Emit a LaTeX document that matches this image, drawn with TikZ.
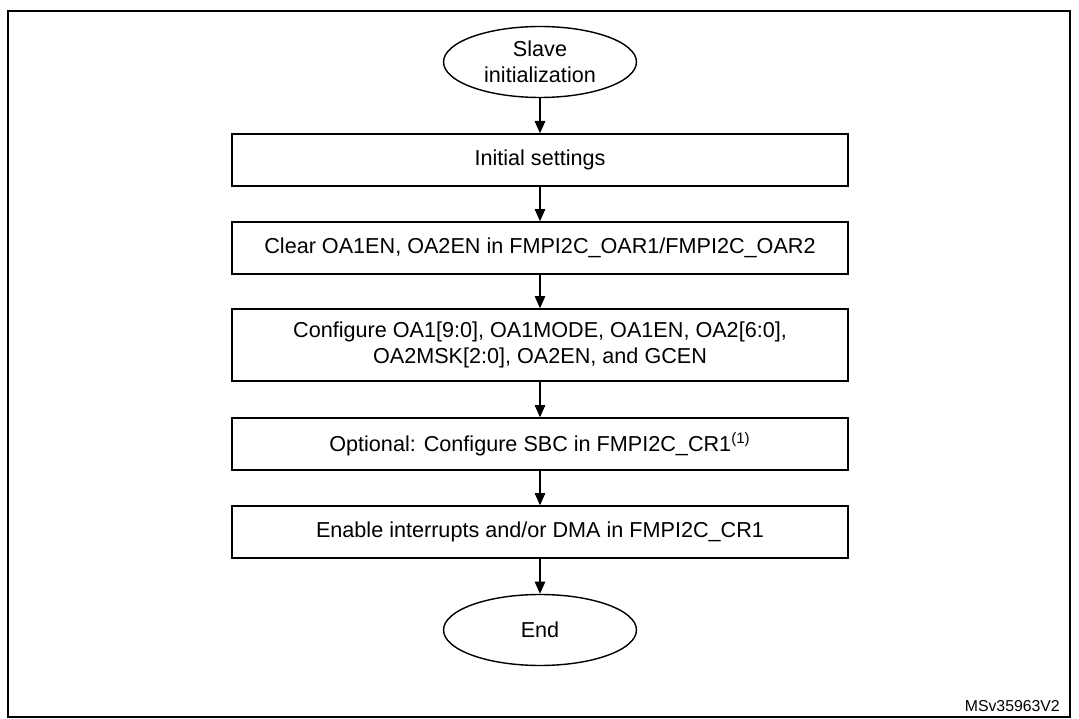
\documentclass[tikz,border=0pt]{standalone}
\usepackage{fontspec}
\setmainfont{Liberation Sans}
\usetikzlibrary{shapes.geometric, arrows.meta}

\begin{document}
\begin{tikzpicture}[x=0.02cm, y=-0.02cm,
		every node/.style={font=\fontsize{12.3}{15}\selectfont, align=center},
		term/.style={ellipse, draw=black, thick, minimum width=3.86cm, minimum height=1.42cm, inner sep=0pt},
		box/.style={rectangle, draw=black, thick, minimum width=12.32cm, minimum height=1.04cm},
		flow/.style={-{Triangle[length=7pt, width=6pt]}, thick}]
\useasboundingbox (0,0) rectangle (1079,719);
\draw[thick] (8,11) rectangle (1070,717);
\node[term] (start) at (540,62) {Slave\\initialization};
\node[box] (init) at (540,160) {Initial settings};
\node[box] (clear) at (540,248) {Clear OA1EN, OA2EN in FMPI2C\_OAR1/FMPI2C\_OAR2};
\node[box, minimum height=1.44cm] (conf) at (540,345) {Configure OA1[9:0], OA1MODE, OA1EN, OA2[6:0],\\OA2MSK[2:0], OA2EN, and GCEN};
\node[box] (sbc) at (540,444) {Optional: Configure SBC in FMPI2C\_CR1\textsuperscript{(1)}};
\node[box] (irq) at (540,532) {Enable interrupts and/or DMA in FMPI2C\_CR1};
\node[term] (end) at (540,630) {End};
\node[anchor=east, font=\fontsize{9}{11}\selectfont] (ref) at (1066,706) {MSv35963V2};
\foreach \a/\b in {start/init, init/clear, clear/conf, conf/sbc, sbc/irq, irq/end}
	\draw[flow] (\a) -- (\b);
\end{tikzpicture}
\end{document}
